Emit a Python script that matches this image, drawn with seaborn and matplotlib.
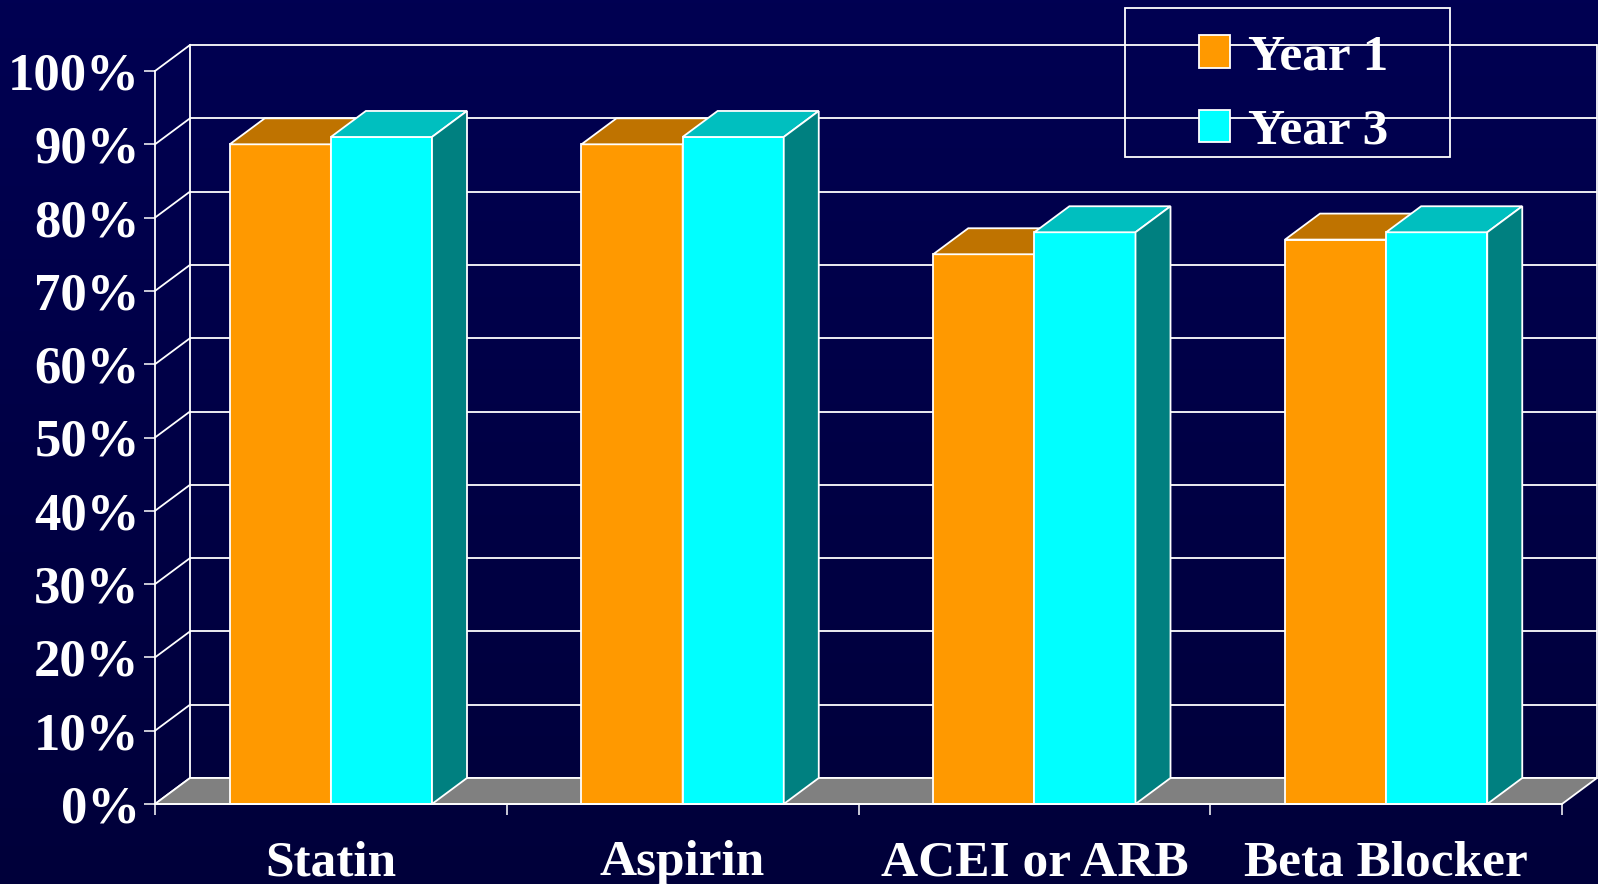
import numpy as np
import pandas as pd
import matplotlib
matplotlib.use("Agg")
import matplotlib.pyplot as plt
from matplotlib.patches import Polygon, Rectangle, Patch
import seaborn as sns

# ---- data ----
categories = ["Statin", "Aspirin", "ACEI or ARB", "Beta Blocker"]
series_names = ["Year 1", "Year 3"]
year1 = [90, 90, 75, 77]
year3 = [91, 91, 78, 78]
y_ticks = [0, 10, 20, 30, 40, 50, 60, 70, 80, 90, 100]

# ---- styling ----
front_col = {"Year 1": "#FF9900", "Year 3": "#00FFFF"}
top_col = {"Year 1": "#BF7300", "Year 3": "#00BFBF"}
side_col = {"Year 1": "#A86500", "Year 3": "#008080"}
FLOOR = "#808080"
LINE = "white"
LW = 1.3
FS = 37

plt.rcParams["font.family"] = ["Liberation Serif", "DejaVu Serif"]
plt.rcParams["font.weight"] = "bold"

W, H = 1598, 884
fig = plt.figure(figsize=(W / 100, H / 100), dpi=100)

# navy gradient background
bg = fig.add_axes([0, 0, 1, 1], zorder=-10)
grad = np.linspace(0, 1, 256)[:, None]
top_rgb = np.array([0, 0, 82]) / 255
bot_rgb = np.array([0, 0, 58]) / 255
img = top_rgb[None, None, :] * (1 - grad[..., None]) + bot_rgb[None, None, :] * grad[..., None]
img = np.repeat(img, 2, axis=1)
bg.imshow(img, aspect="auto", extent=[0, 1, 0, 1])
bg.set_axis_off()

# front plane of the 3-D chart
L, R, B, T = 155, 1562, 804, 71
ax = fig.add_axes([L / W, (H - B) / H, (R - L) / W, (B - T) / H])
ax.set_facecolor("none")
ax.set_xlim(-0.5, 3.5)
ax.set_ylim(0, 100)

# depth offset of the oblique projection, in data units
DX = 35 / ((R - L) / 4)
DY = 26 / ((B - T) / 100)

df = pd.DataFrame({
    "drug": categories * 2,
    "year": [series_names[0]] * len(categories) + [series_names[1]] * len(categories),
    "pct": year1 + year3,
})

sns.barplot(data=df, x="drug", y="pct", hue="year", hue_order=series_names,
            palette=front_col, width=0.575, saturation=1, edgecolor=LINE,
            linewidth=LW, legend=False, ax=ax)

# back wall gridlines, side wall and floor
x0w, x1w = -0.5, 3.5
for v in y_ticks:
    ax.plot([x0w + DX, x1w + DX], [v + DY, v + DY], color=LINE, lw=LW,
            clip_on=False, zorder=1, solid_capstyle="butt")
    ax.plot([x0w, x0w + DX], [v, v + DY], color=LINE, lw=LW,
            clip_on=False, zorder=1)
ax.plot([x0w + DX, x0w + DX], [DY, 100 + DY], color=LINE, lw=LW, clip_on=False, zorder=1)
ax.plot([x1w + DX, x1w + DX], [DY, 100 + DY], color=LINE, lw=LW, clip_on=False, zorder=1)
ax.add_patch(Polygon([(x0w, 0), (x1w, 0), (x1w + DX, DY), (x0w + DX, DY)],
                     closed=True, facecolor=FLOOR, edgecolor=LINE, lw=LW,
                     clip_on=False, zorder=2))

# extrude each bar: top and right side faces
for i, (name, cont) in enumerate(zip(series_names, ax.containers)):
    z = 3 + i
    for bar in cont:
        bx, bw, bh = bar.get_x(), bar.get_width(), bar.get_height()
        bar.set_zorder(z)
        bar.set_clip_on(False)
        ax.add_patch(Polygon([(bx, bh), (bx + bw, bh), (bx + bw + DX, bh + DY), (bx + DX, bh + DY)],
                             closed=True, facecolor=top_col[name], edgecolor=LINE,
                             lw=LW, clip_on=False, zorder=z))
        ax.add_patch(Polygon([(bx + bw, 0), (bx + bw + DX, DY), (bx + bw + DX, bh + DY), (bx + bw, bh)],
                             closed=True, facecolor=side_col[name], edgecolor=LINE,
                             lw=LW, clip_on=False, zorder=z))

# axes, ticks and labels
for s in ["top", "right"]:
    ax.spines[s].set_visible(False)
for s in ["left", "bottom"]:
    ax.spines[s].set_color(LINE)
    ax.spines[s].set_linewidth(LW)
    ax.spines[s].set_zorder(6)
ax.set_xlabel("")
ax.set_ylabel("")

ax.set_yticks(y_ticks)
ax.set_yticklabels([f"{v}%" for v in y_ticks])
ax.tick_params(axis="y", colors=LINE, labelcolor="white", length=8, width=1.1,
               pad=3, labelsize=FS + 1)

ax.set_xticks([-0.5, 0.5, 1.5, 2.5, 3.5])
ax.set_xticklabels([])
ax.set_xticks(range(len(categories)), minor=True)
ax.set_xticklabels(categories, minor=True)
ax.tick_params(axis="x", which="major", colors=LINE, length=8, width=1.1)
ax.tick_params(axis="x", which="minor", length=0, pad=26, labelsize=FS,
               labelcolor="white")

# legend
handles = [Patch(facecolor=front_col[s], edgecolor=LINE, linewidth=LW) for s in series_names]
leg = fig.legend(handles, series_names, loc="upper left",
                 bbox_to_anchor=(1173 / W, 1 - 9 / H), bbox_transform=fig.transFigure,
                 frameon=False, prop=dict(size=FS, weight="bold"),
                 handlelength=0.6, handleheight=0.6, handletextpad=0.35,
                 labelspacing=0.55, borderpad=0)
for t in leg.get_texts():
    t.set_color("white")
fig.add_artist(Rectangle((1125 / W, 1 - 157 / H), 325 / W, 149 / H,
                         transform=fig.transFigure, fill=False, edgecolor=LINE, lw=LW))

fig.savefig("out.png", dpi=100)
